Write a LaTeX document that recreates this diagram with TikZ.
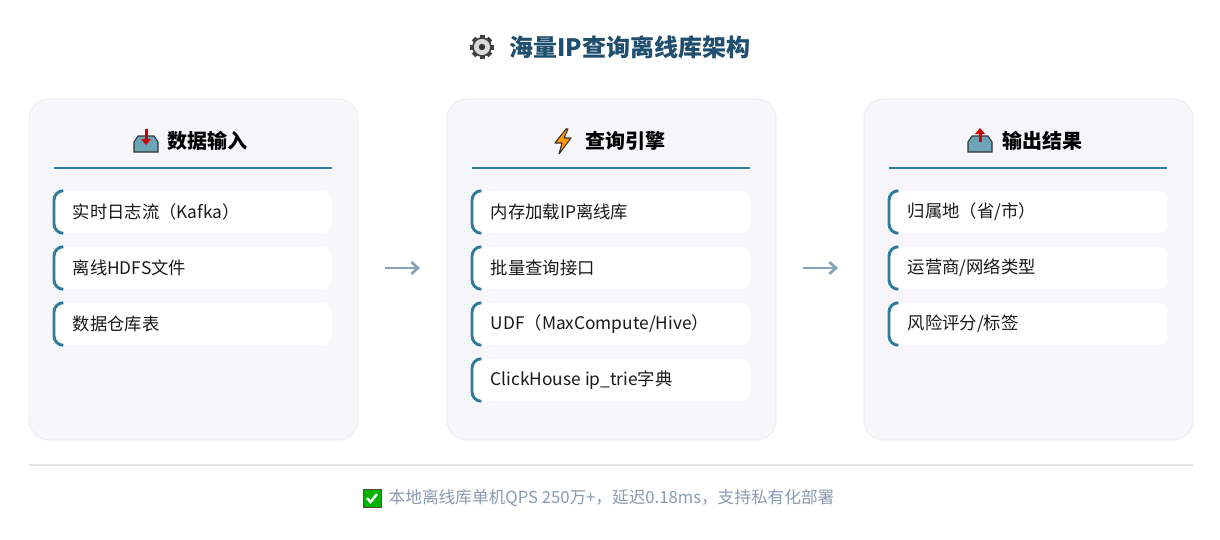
\documentclass[tikz,border=0pt]{standalone}
\usepackage{fontspec}
\setmainfont{Noto Sans CJK SC}
\newfontfamily\dejavu{DejaVu Sans}
\usetikzlibrary{arrows.meta}
\begin{document}
\begin{tikzpicture}[x=0.75pt,y=-0.75pt,
  panel/.style={draw=black!8,fill=blue!40!gray!5,rounded corners=15pt,line width=0.6pt},
  item/.style={fill=white,rounded corners=7pt,minimum width=208.5pt,minimum height=31.5pt,inner sep=0pt,anchor=west},
  itxt/.style={font=\fontsize{13}{15}\selectfont,anchor=west,text=black!90},
  hdr/.style={font=\fontsize{15}{18}\selectfont\bfseries,text=black},
  arr/.style={draw=accentarr,line width=2pt,-{Straight Barb[length=5pt,width=9pt]}},
]
\definecolor{accent}{HTML}{2E7D9A}
\definecolor{accentarr}{HTML}{86A3B8}
\definecolor{titlec}{HTML}{1F4E6E}
\definecolor{foot}{HTML}{8A9BB0}
\useasboundingbox (0,0) rectangle (1220,539);
\fill[white] (0,0) rectangle (1220,539);
\node[font=\fontsize{18}{21}\selectfont\bfseries,text=titlec] (title) at (630,47) {海量IP查询离线库架构};
\begin{scope}[shift={(482,47)}]
 \foreach \a in {0,45,...,315}
   \fill[black!75,rotate=\a] (-2.5,-12) rectangle (2.5,-8);
 \filldraw[fill=black!15,draw=black!75,line width=1.2pt] (0,0) circle (9);
 \fill[black!80] (0,0) circle (3.2);
\end{scope}
\foreach \px/\name/\head/\ico in {29/in/数据输入/a,447/q/查询引擎/b,864/out/输出结果/c}{
  \draw[panel] (\px,99) rectangle ++(329,341);
  \node[panel,draw=none,fill=none] (\name) at (\px+164.5,270) {};
  \node[hdr,anchor=west] (\name h) at (\px+134,141) {\head};
  \draw[accent,line width=2.2pt] (\px+25,168) -- (\px+303,168);
}
% icons
\begin{scope}[shift={(146,144)}]
 \fill[accent!70] (-12,-2) -- (-8,-8) -- (8,-8) -- (12,-2) -- (12,8) -- (-12,8) -- cycle;
 \draw[black!80,line width=0.8pt] (-12,-2) -- (-8,-8) -- (8,-8) -- (12,-2) -- (12,8) -- (-12,8) -- cycle;
 \fill[red!80!black] (-1.5,-15) rectangle (1.5,-4);
 \fill[red!80!black] (-5,-5) -- (5,-5) -- (0,1) -- cycle;
\end{scope}
\begin{scope}[shift={(563,141)}]
 \filldraw[fill=orange!80!yellow,draw=black!80,line width=0.8pt,line join=round]
   (3,-12) -- (-8,2) -- (-1,2) -- (-4,13) -- (8,-3) -- (1,-3) -- (5,-12) -- cycle;
\end{scope}
\begin{scope}[shift={(980,144)}]
 \fill[accent!70] (-12,-2) -- (-8,-8) -- (8,-8) -- (12,-2) -- (12,8) -- (-12,8) -- cycle;
 \draw[black!80,line width=0.8pt] (-12,-2) -- (-8,-8) -- (8,-8) -- (12,-2) -- (12,8) -- (-12,8) -- cycle;
 \fill[red!80!black] (-1.5,-2) rectangle (1.5,-11);
 \fill[red!80!black] (-5,-10) -- (5,-10) -- (0,-16) -- cycle;
\end{scope}
% items
\foreach \px/\name/\list in {
  54/in/{实时日志流（Kafka）,离线HDFS文件,数据仓库表},
  472/q/{内存加载IP离线库,批量查询接口,UDF（MaxCompute/Hive）,ClickHouse ip\_trie字典},
  889/out/{归属地（省/市）,运营商/网络类型,风险评分/标签}}{
  \foreach \t [count=\i] in \list {
    \node[item] (\name\i) at (\px,{212+56*(\i-1)}) {};
    \draw[accent,line width=2.2pt] ([xshift=7pt]\name\i.north west) arc[start angle=90,end angle=180,radius=7pt] -- ([yshift=7pt]\name\i.south west) arc[start angle=180,end angle=270,radius=7pt];
    \node[itxt] at (\px+14,{212+56*(\i-1)}) {\t};
  }
}
\coordinate (a1) at (385,268); \coordinate (a2) at (420,268);
\coordinate (b1) at (803,268); \coordinate (b2) at (838,268);
\draw[arr] (a1) -- (a2);
\draw[arr] (b1) -- (b2);
\draw[black!10,line width=0.8pt] (29,465) -- (1193,465);
\node[font=\fontsize{12.5}{14}\selectfont,text=foot,anchor=west] (foot) at (384,498) {本地离线库单机QPS 250万+，延迟0.18ms，支持私有化部署};
\begin{scope}[shift={(372,498)}]
 \fill[green!70!black] (-9,-9) rectangle (9,9);
 \draw[black!70,line width=0.6pt] (-9,-9) rectangle (9,9);
 \draw[white,line width=1.8pt] (-5,0) -- (-1.5,4) -- (5,-4);
\end{scope}
\end{tikzpicture}
\end{document}
